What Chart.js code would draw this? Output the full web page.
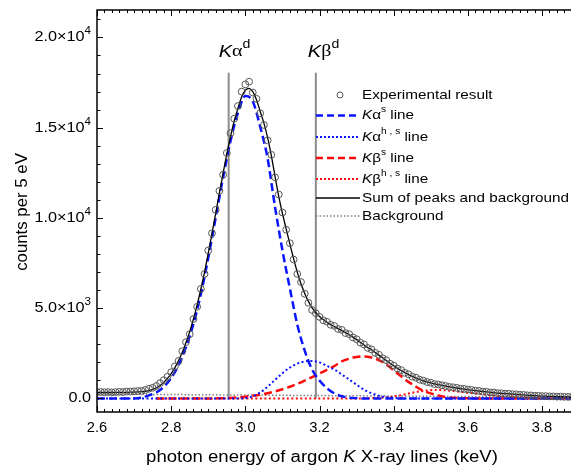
<!DOCTYPE html>
<html>
<head>
<meta charset="utf-8">
<script src="https://cdn.jsdelivr.net/npm/chart.js@4.4.1/dist/chart.umd.min.js"></script>
<style>
  body { margin: 0; background: #fff; overflow: hidden; }
  canvas { display: block; }
</style>
</head>
<body>
<canvas id="spectrumChart" width="571" height="468"></canvas>
<script>
// experimental points, every 0.01 keV
const expEnergy = [
  2.60, 2.61, 2.62, 2.63, 2.64, 2.65, 2.66, 2.67, 2.68, 2.69,
  2.70, 2.71, 2.72, 2.73, 2.74, 2.75, 2.76, 2.77, 2.78, 2.79,
  2.80, 2.81, 2.82, 2.83, 2.84, 2.85, 2.86, 2.87, 2.88, 2.89,
  2.90, 2.91, 2.92, 2.93, 2.94, 2.95, 2.96, 2.97, 2.98, 2.99,
  3.00, 3.01, 3.02, 3.03, 3.04, 3.05, 3.06, 3.07, 3.08, 3.09,
  3.10, 3.11, 3.12, 3.13, 3.14, 3.15, 3.16, 3.17, 3.18, 3.19,
  3.20, 3.21, 3.22, 3.23, 3.24, 3.25, 3.26, 3.27, 3.28, 3.29,
  3.30, 3.31, 3.32, 3.33, 3.34, 3.35, 3.36, 3.37, 3.38, 3.39,
  3.40, 3.41, 3.42, 3.43, 3.44, 3.45, 3.46, 3.47, 3.48, 3.49,
  3.50, 3.51, 3.52, 3.53, 3.54, 3.55, 3.56, 3.57, 3.58, 3.59,
  3.60, 3.61, 3.62, 3.63, 3.64, 3.65, 3.66, 3.67, 3.68, 3.69,
  3.70, 3.71, 3.72, 3.73, 3.74, 3.75, 3.76, 3.77, 3.78, 3.79,
  3.80, 3.81, 3.82, 3.83, 3.84, 3.85, 3.86, 3.87, 3.88
];
const expCounts = [
  350, 360, 345, 355, 340, 350, 365, 355, 380, 385,
  400, 410, 420, 470, 540, 590, 690, 850, 1010, 1200,
  1450, 1780, 2080, 2620, 3120, 3560, 4400, 5080, 6070, 6900,
  8200, 9150, 10450, 11500, 12400, 13600, 14700, 15500, 16200, 17000,
  17400, 17550, 16950, 16600, 15800, 15150, 14300, 13500, 12250, 11300,
  10300, 9350, 8600, 7700, 6900, 6450, 5800, 5300, 4900, 4720,
  4520, 4330, 4250, 4080, 4020, 3850, 3800, 3620, 3560, 3380,
  3280, 3090, 2990, 2800, 2720, 2530, 2420, 2230, 2120, 1930,
  1820, 1660, 1570, 1420, 1340, 1210, 1150, 1040, 990, 910,
  870, 800, 775, 730, 690, 640, 620, 590, 545, 530,
  495, 470, 430, 420, 380, 370, 335, 330, 295, 290,
  265, 260, 235, 230, 205, 200, 175, 170, 150, 150,
  130, 130, 115, 115, 100, 100, 90, 88, 80
];
// sum of peaks and background, same energies
const sumCounts = [
  330, 330, 330, 330, 330, 332, 334, 337, 341, 346,
  352, 362, 377, 400, 440, 500, 590, 720, 890, 1110,
  1380, 1710, 2100, 2560, 3100, 3700, 4400, 5180, 6050, 7000,
  8050, 9130, 10250, 11380, 12480, 13540, 14510, 15370, 16080, 16700,
  17080, 17180, 17000, 16550, 15900, 15250, 14450, 13450, 12300, 11200,
  10250, 9400, 8550, 7750, 7000, 6350, 5820, 5380, 5020, 4750,
  4540, 4370, 4220, 4090, 3980, 3870, 3760, 3650, 3530, 3400,
  3260, 3110, 2960, 2820, 2700, 2550, 2400, 2250, 2100, 1950,
  1810, 1670, 1550, 1430, 1320, 1220, 1130, 1050, 980, 920,
  860, 810, 765, 722, 682, 645, 610, 580, 550, 520,
  490, 460, 435, 410, 385, 360, 340, 320, 300, 285,
  270, 255, 240, 225, 210, 195, 180, 168, 156, 145,
  135, 126, 118, 110, 103, 97, 91, 86, 81
];

// fitted components, every 0.02 keV
const fitEnergy = [
  2.60, 2.62, 2.64, 2.66, 2.68, 2.70, 2.72, 2.74, 2.76, 2.78,
  2.80, 2.82, 2.84, 2.86, 2.88, 2.90, 2.92, 2.94, 2.96, 2.98,
  3.00, 3.02, 3.04, 3.06, 3.08, 3.10, 3.12, 3.14, 3.16, 3.18,
  3.20, 3.22, 3.24, 3.26, 3.28, 3.30, 3.32, 3.34, 3.36, 3.38,
  3.40, 3.42, 3.44, 3.46, 3.48, 3.50, 3.52, 3.54, 3.56, 3.58,
  3.60, 3.62, 3.64, 3.66, 3.68, 3.70, 3.72, 3.74, 3.76, 3.78,
  3.80, 3.82, 3.84, 3.86, 3.88
];
const kaSingle = [
  0, 0, 0, 0, 0, 0, 40, 170, 330, 640,
  1130, 1850, 2850, 4130, 5780, 7800, 10020, 12250, 14270, 15820,
  16750, 16450, 15050, 13300, 10600, 8200, 6100, 4100, 2650, 1600,
  1000, 560, 280, 120, 45, 15, 0, 0, 0, 0,
  0, 0, 0, 0, 0, 0, 0, 0, 0, 0,
  0, 0, 0, 0, 0, 0, 0, 0, 0, 0,
  0, 0, 0, 0, 0
];
const kaHyper = [
  0, 0, 0, 0, 0, 0, 0, 0, 0, 0,
  0, 0, 0, 0, 0, 0, 0, 0, 0, 0,
  20, 120, 330, 650, 1030, 1400, 1710, 1930, 2050, 2080,
  2000, 1800, 1600, 1330, 1050, 760, 480, 290, 150, 70,
  30, 10, 0, 0, 0, 0, 0, 0, 0, 0,
  0, 0, 0, 0, 0, 0, 0, 0, 0, 0,
  0, 0, 0, 0, 0
];
const kbSingle = [
  null, null, null, null, null, null, null, null, 0, 0,
  0, 0, 0, 0, 0, 0, 5, 10, 30, 60,
  100, 150, 210, 290, 390, 510, 650, 810, 990, 1180,
  1380, 1590, 1800, 2050, 2200, 2300, 2330, 2270, 2120, 1880,
  1560, 1230, 920, 650, 420, 280, 160, 85, 40, 15,
  5, 0, 0, 0, 0, 0, 0, 0, 0, 0,
  0, 0, 0, 0, 0
];
const kbHyper = [
  null, null, null, null, null, null, null, null, 0, 0,
  0, 0, 0, 0, 0, 0, 0, 0, 0, 0,
  0, 0, 0, 0, 0, 0, 0, 0, 0, 0,
  0, 0, 0, 0, 0, 0, 5, 15, 30, 60,
  110, 180, 270, 360, 420, 460, 470, 450, 410, 365,
  320, 270, 220, 180, 145, 115, 90, 70, 52, 38,
  27, 18, 12, 8, 5
];
const bgEnergy = [2.60, 3.88];
const bgCounts = [245, 65];

// diagram lines Ka^d and Kb^d
const markerEnergy = [2.955, 3.19];
const markerTop = 18050;
const markerGreek = ['\u03b1', '\u03b2'];

const xTickLabels = ['2.6', '2.8', '3.0', '3.2', '3.4', '3.6', '3.8'];
const yTickValues = [0, 5000, 10000, 15000, 20000];
const yTickMantissa = ['0.0', '5.0', '1.0', '1.5', '2.0'];
const yTickExponent = [null, '3', '4', '4', '4'];

const SANS = '"Liberation Sans", Arial, sans-serif';
const SERIF = '"Liberation Serif", "Times New Roman", serif';
const SX = 1.16; // text in the figure is a little wider than tall

function pts(xs, ys) {
  return xs.map((x, i) => ({ x: x, y: ys[i] }));
}

function partFont(p, size) {
  const s = p.sup ? Math.round(size * 0.7) : size;
  return (p.it ? 'italic ' : '') + s + 'px ' + (p.serif ? SERIF : SANS);
}

function drawRich(ctx, parts, x, y, size, align, sx) {
  sx = sx || 1;
  let w = 0;
  parts.forEach(p => {
    ctx.font = partFont(p, size);
    p.w = ctx.measureText(p.t).width;
    w += p.w;
  });
  let x0 = align === 'right' ? x - w * sx : align === 'center' ? x - w * sx / 2 : x;
  ctx.save();
  ctx.translate(x0, y);
  ctx.scale(sx, 1);
  ctx.textAlign = 'left';
  ctx.textBaseline = 'middle';
  let cx = 0;
  parts.forEach(p => {
    ctx.font = partFont(p, size);
    ctx.fillText(p.t, cx, p.sup ? -size * 0.42 : 0);
    cx += p.w;
  });
  ctx.restore();
}

const legendRows = [
  { y: 95, kind: 'circle', parts: [{ t: 'Experimental result' }] },
  { y: 115.5, color: '#0a14ff', dash: [7, 4], width: 2.5,
    parts: [{ t: 'K', it: true }, { t: '\u03b1' }, { t: 's', sup: true }, { t: ' line' }] },
  { y: 137, color: '#0a14ff', dash: [2, 2], width: 2,
    parts: [{ t: 'K', it: true }, { t: '\u03b1' }, { t: 'h , s', sup: true }, { t: ' line' }] },
  { y: 158, color: '#ff0a0a', dash: [7, 4], width: 2.5,
    parts: [{ t: 'K', it: true }, { t: '\u03b2' }, { t: 's', sup: true }, { t: ' line' }] },
  { y: 179, color: '#ff0a0a', dash: [2, 2], width: 2,
    parts: [{ t: 'K', it: true }, { t: '\u03b2' }, { t: 'h , s', sup: true }, { t: ' line' }] },
  { y: 198, color: '#000', dash: [], width: 1.3,
    parts: [{ t: 'Sum of peaks and background' }] },
  { y: 216, color: '#808080', dash: [1.5, 2], width: 1.5,
    parts: [{ t: 'Background' }] }
];

const framePlugin = {
  id: 'frame',
  afterDatasetsDraw(chart) {
    const { ctx, chartArea: a, scales: { x, y } } = chart;
    ctx.save();
    ctx.fillStyle = '#000';
    ctx.strokeStyle = '#000';

    // axis lines
    ctx.lineWidth = 1.5;
    ctx.beginPath();
    ctx.moveTo(a.right, a.top);
    ctx.lineTo(a.left, a.top);
    ctx.lineTo(a.left, a.bottom);
    ctx.lineTo(a.right, a.bottom);
    ctx.stroke();

    // x ticks, pointing inside, on bottom and top
    ctx.lineWidth = 1;
    for (let i = 0; i <= 64; i++) {
      const px = Math.round(x.getPixelForValue(2.6 + i * 0.02)) + 0.5;
      const len = i % 10 === 0 ? 6 : 3;
      ctx.beginPath();
      ctx.moveTo(px, a.bottom);
      ctx.lineTo(px, a.bottom - len);
      ctx.moveTo(px, a.top);
      ctx.lineTo(px, a.top + len);
      ctx.stroke();
    }
    // y ticks
    for (let v = 0; v <= 21000; v += 1000) {
      const py = Math.round(y.getPixelForValue(v)) + 0.5;
      const len = v % 5000 === 0 ? 6 : 3.5;
      ctx.beginPath();
      ctx.moveTo(a.left, py);
      ctx.lineTo(a.left + len, py);
      ctx.stroke();
    }

    // x tick labels
    xTickLabels.forEach(t => {
      drawRich(ctx, [{ t: t }], x.getPixelForValue(parseFloat(t)), a.bottom + 16, 14, 'center', 1.05);
    });
    // y tick labels
    yTickValues.forEach((v, i) => {
      const parts = [{ t: yTickMantissa[i] + (yTickExponent[i] ? '\u00d710' : '') }];
      if (yTickExponent[i]) parts.push({ t: yTickExponent[i], sup: true });
      drawRich(ctx, parts, a.left - 6, y.getPixelForValue(v), 14, 'right', SX);
    });

    // axis titles
    drawRich(ctx, [{ t: 'photon energy of argon ' }, { t: 'K', it: true }, { t: ' X-ray lines (keV)' }],
      322, 458, 16, 'center', 1.16);
    ctx.save();
    ctx.translate(23, 212);
    ctx.rotate(-Math.PI / 2);
    drawRich(ctx, [{ t: 'counts per 5 eV' }], 0, 0, 16, 'center', 1.05);
    ctx.restore();

    // marker labels
    markerEnergy.forEach((e, i) => {
      const px = x.getPixelForValue(e);
      drawRich(ctx, [{ t: 'K', it: true }, { t: markerGreek[i], serif: true }, { t: 'd', sup: true }],
        px - (i === 0 ? 10 : 8), 52, 17, 'left', 1.18);
    });

    // legend
    legendRows.forEach(r => {
      if (r.kind === 'circle') {
        ctx.strokeStyle = '#555';
        ctx.lineWidth = 1;
        ctx.setLineDash([]);
        ctx.beginPath();
        ctx.arc(340, r.y, 3, 0, Math.PI * 2);
        ctx.stroke();
      } else {
        ctx.strokeStyle = r.color;
        ctx.lineWidth = r.width;
        ctx.setLineDash(r.dash);
        ctx.beginPath();
        ctx.moveTo(316, r.y);
        ctx.lineTo(360, r.y);
        ctx.stroke();
      }
      ctx.setLineDash([]);
      ctx.fillStyle = '#000';
      drawRich(ctx, r.parts, 362, r.y, 13.5, 'left', 1.13);
    });
    ctx.restore();
  }
};

const ctx = document.getElementById('spectrumChart').getContext('2d');
new Chart(ctx, {
  type: 'line',
  data: {
    datasets: [
      {
        label: 'Experimental result',
        data: pts(expEnergy, expCounts),
        showLine: false,
        pointRadius: 3.4,
        pointBorderWidth: 1,
        pointBorderColor: '#555',
        pointBackgroundColor: 'rgba(255,255,255,0)',
        order: 1
      },
      {
        label: 'Sum of peaks and background',
        data: pts(expEnergy, sumCounts),
        borderColor: '#000',
        borderWidth: 1.3,
        pointRadius: 0,
        cubicInterpolationMode: 'monotone',
        order: 2
      },
      {
        label: 'Ka s line',
        data: pts(fitEnergy, kaSingle),
        borderColor: '#0a14ff',
        borderWidth: 2.5,
        borderDash: [8, 4],
        pointRadius: 0,
        cubicInterpolationMode: 'monotone',
        order: 5
      },
      {
        label: 'Ka h,s line',
        data: pts(fitEnergy, kaHyper),
        borderColor: '#0a14ff',
        borderWidth: 2,
        borderDash: [2, 2.5],
        pointRadius: 0,
        cubicInterpolationMode: 'monotone',
        order: 6
      },
      {
        label: 'Kb s line',
        data: pts(fitEnergy, kbSingle),
        borderColor: '#ff0a0a',
        borderWidth: 2.5,
        borderDash: [8, 4],
        pointRadius: 0,
        cubicInterpolationMode: 'monotone',
        order: 7
      },
      {
        label: 'Kb h,s line',
        data: pts(fitEnergy, kbHyper),
        borderColor: '#ff0a0a',
        borderWidth: 2,
        borderDash: [2, 2.5],
        pointRadius: 0,
        cubicInterpolationMode: 'monotone',
        order: 8
      },
      {
        label: 'Background',
        data: pts(bgEnergy, bgCounts),
        borderColor: '#808080',
        borderWidth: 1.5,
        borderDash: [1.5, 2],
        pointRadius: 0,
        order: 9
      },
      {
        label: 'Ka d',
        data: [{ x: markerEnergy[0], y: 0 }, { x: markerEnergy[0], y: markerTop }],
        borderColor: '#8c8c8c',
        borderWidth: 2,
        pointRadius: 0,
        order: 10
      },
      {
        label: 'Kb d',
        data: [{ x: markerEnergy[1], y: 0 }, { x: markerEnergy[1], y: markerTop }],
        borderColor: '#8c8c8c',
        borderWidth: 2,
        pointRadius: 0,
        order: 10
      }
    ]
  },
  options: {
    responsive: false,
    animation: false,
    layout: { autoPadding: false, padding: { top: 10, right: 0, left: 0, bottom: 0 } },
    plugins: {
      legend: { display: false },
      tooltip: { enabled: false }
    },
    scales: {
      x: {
        type: 'linear',
        min: 2.6,
        max: 3.878,
        grid: { display: false, drawTicks: false },
        border: { display: false },
        ticks: { display: false, padding: 0 },
        afterFit: s => { s.height = 56; s.paddingLeft = 0; s.paddingRight = 0; }
      },
      y: {
        min: -750,
        max: 21520,
        grid: { display: false, drawTicks: false },
        border: { display: false },
        ticks: { display: false, padding: 0 },
        afterFit: s => { s.width = 97; s.paddingTop = 0; s.paddingBottom = 0; }
      }
    }
  },
  plugins: [framePlugin]
});
</script>
</body>
</html>
